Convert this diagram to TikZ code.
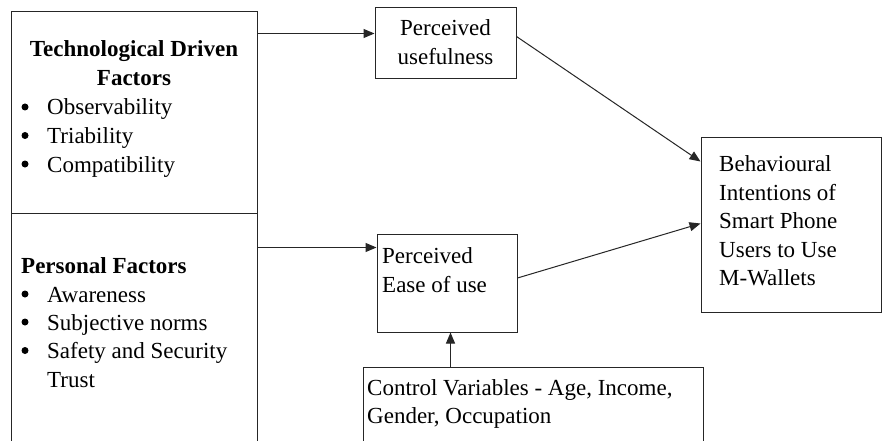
\documentclass[tikz,border=0pt]{standalone}
\usepackage{fontspec}
\setmainfont{Liberation Serif}
\usetikzlibrary{arrows.meta}
\begin{document}
\begin{tikzpicture}[x=1pt,y=-1pt,
  box/.style={draw=black!85, line width=1pt, inner sep=0pt, anchor=center},
  txt/.style={inner sep=0pt, anchor=base west, font=\fontsize{23}{28.7}\selectfont},
  ctxt/.style={inner sep=0pt, anchor=base, font=\fontsize{23}{28.7}\selectfont},
  bul/.style={circle, fill=black, inner sep=0pt, minimum size=7pt},
  arr/.style={draw=black!85, line width=1pt, -{Triangle[length=11pt,width=9pt]}}]
\useasboundingbox (0,0) rectangle (883,441);
\clip (0,0) rectangle (883,441);
\fill[white] (0,0) rectangle (883,441);

% boxes
\node[box, minimum width=246pt, minimum height=201pt] (tech) at (134,112.5) {};
\node[box, minimum width=246pt, minimum height=257pt] (pers) at (134,341.5) {};
\node[box, minimum width=141pt, minimum height=71pt] (pu) at (445.5,43.5) {};
\node[box, minimum width=140pt, minimum height=98pt] (peou) at (447,283) {};
\node[box, minimum width=340pt, minimum height=103pt] (ctrl) at (533,418.5) {};
\node[box, minimum width=180.5pt, minimum height=174pt] (beh) at (791.25,225) {};

% technological factors
\node[ctxt] (t1) at (134,57) {\bfseries Technological Driven};
\node[ctxt] (t2) at (134,86) {\bfseries Factors};
\node[bul] (tb1) at (25,107) {};
\node[txt] (ti1) at (47,115) {Observability};
\node[bul] (tb2) at (25,135.5) {};
\node[txt] (ti2) at (47,143.5) {Triability};
\node[bul] (tb3) at (25,164) {};
\node[txt] (ti3) at (47,172) {Compatibility};

% personal factors
\node[txt] (p1) at (21,273) {\bfseries Personal Factors};
\node[bul] (pb1) at (25,294) {};
\node[txt] (pi1) at (47,302) {Awareness};
\node[bul] (pb2) at (25,322) {};
\node[txt] (pi2) at (47,330) {Subjective norms};
\node[bul] (pb3) at (25,350.5) {};
\node[txt] (pi3) at (47,358.5) {Safety and Security};
\node[txt] (pi4) at (47,387) {Trust};

% perceived usefulness
\node[ctxt] (u1) at (445.5,36) {Perceived};
\node[ctxt] (u2) at (445.5,65) {usefulness};

% perceived ease of use
\node[txt] (e1) at (382,263) {Perceived};
\node[txt] (e2) at (382,292) {Ease of use};

% control variables
\node[txt] (c1) at (367,395) {Control Variables - Age, Income,};
\node[txt] (c2) at (367,423.5) {Gender, Occupation};

% behavioural intentions
\node[txt] (b1) at (719,171) {Behavioural};
\node[txt] (b2) at (719,200) {Intentions of};
\node[txt] (b3) at (719,228) {Smart Phone};
\node[txt] (b4) at (719,257) {Users to Use};
\node[txt] (b5) at (719,285) {M-Wallets};

% connectors
\draw[arr] ([yshift=-22pt]tech.north east) -- ([yshift=-26pt]pu.north west);
\draw[arr] ([yshift=-35pt]pers.north east) -- ([yshift=-14pt]peou.north west);
\draw[arr] ([yshift=7pt]pu.east) -- ([yshift=-24pt]beh.north west);
\draw[arr] ([yshift=5pt]peou.east) -- ([yshift=-86pt]beh.north west);
\draw[arr] ([xshift=88pt]ctrl.north west) -- ([xshift=74pt]peou.south west);
\end{tikzpicture}
\end{document}
